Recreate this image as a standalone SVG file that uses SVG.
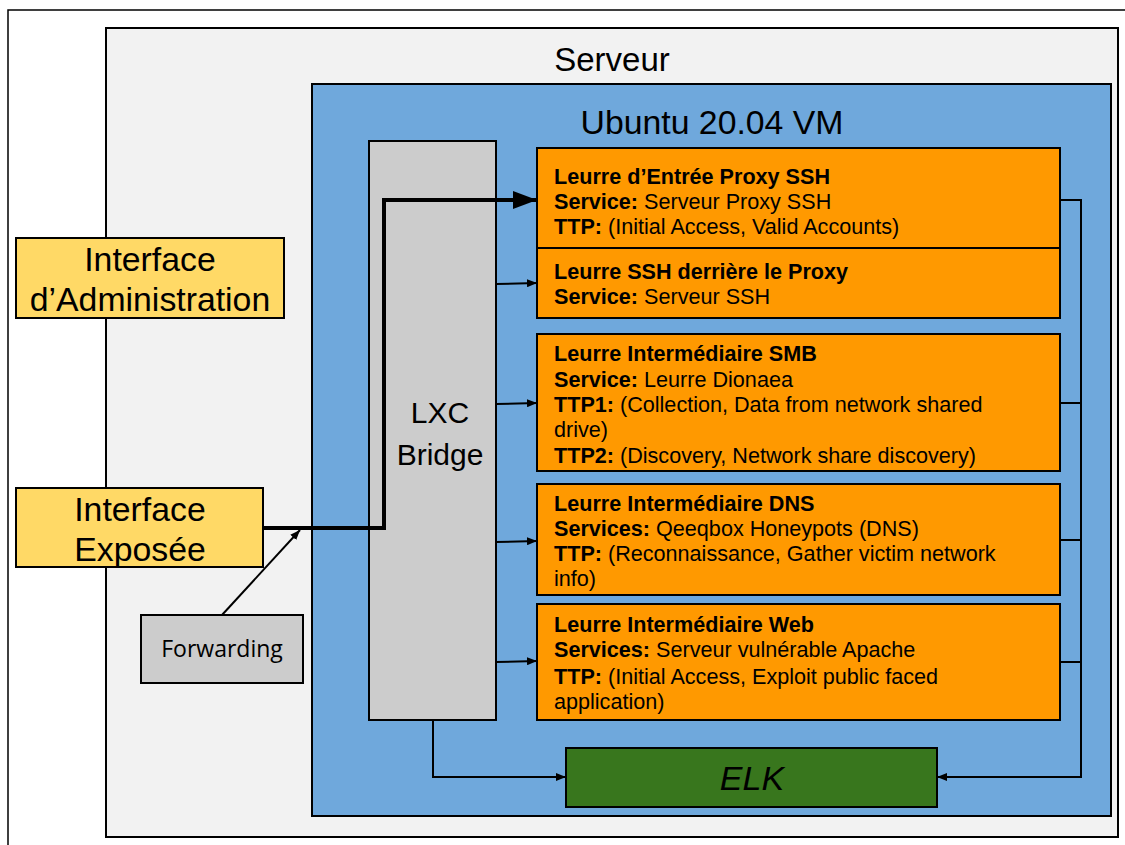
<svg xmlns="http://www.w3.org/2000/svg" width="1125" height="845" viewBox="0 0 1125 845">
<defs>
<style>
.box{stroke:#000;stroke-width:2}
.t{font-family:"Liberation Sans",Arial,sans-serif;fill:#000}
.o{font-family:"Liberation Sans",Arial,sans-serif;font-size:21.6px;fill:#000}
.b{font-weight:bold}
.c{fill:none;stroke:#000;stroke-width:2}
</style>
<marker id="big" markerUnits="userSpaceOnUse" markerWidth="24" markerHeight="18" refX="24" refY="9" orient="auto"><path d="M0,0 L24,9 L0,18 Z" fill="#000"/></marker>
<marker id="sm" markerUnits="userSpaceOnUse" markerWidth="10" markerHeight="8" refX="10" refY="4" orient="auto"><path d="M0,0 L10,4 L0,8 Z" fill="#000"/></marker>
</defs>
<rect width="1125" height="845" fill="#fff"/>
<rect x="8" y="10" width="1140" height="860" fill="#fff" stroke="#000" stroke-width="1.5"/>
<g id="serveur">
<rect x="106" y="28" width="1012" height="809" fill="#f2f2f2" class="box"/>
<text x="612" y="71" class="t" font-size="33" text-anchor="middle">Serveur</text>
</g>
<g id="vm">
<rect x="312" y="84" width="799" height="732" fill="#6fa8dc" class="box"/>
<text x="712" y="134" class="t" font-size="33.8" text-anchor="middle">Ubuntu 20.04 VM</text>
</g>
<g id="lxc">
<rect x="369" y="141" width="127" height="579" fill="#cccccc" class="box"/>
<text x="440" y="423" class="t" font-size="30" text-anchor="middle">LXC</text>
<text x="440" y="465" class="t" font-size="30" text-anchor="middle">Bridge</text>
</g>
<g id="admin">
<rect x="16" y="238" width="268" height="80" fill="#ffd966" class="box"/>
<text x="150" y="271" class="t" font-size="33.8" text-anchor="middle">Interface</text>
<text x="150" y="311" class="t" font-size="33.8" text-anchor="middle">d’Administration</text>
</g>
<g id="exposee">
<rect x="16" y="488" width="247" height="79" fill="#ffd966" class="box"/>
<text x="140" y="521" class="t" font-size="33.8" text-anchor="middle">Interface</text>
<text x="140" y="561" class="t" font-size="33.8" text-anchor="middle">Exposée</text>
</g>
<g id="forwarding">
<rect x="141" y="615" width="162" height="68" fill="#cccccc" class="box"/>
<text x="222" y="657" font-family="'Open Sans','Noto Sans',sans-serif" font-size="23" text-anchor="middle">Forwarding</text>
</g>
<g id="proxy">
<rect x="537" y="148" width="523" height="100" fill="#ff9900" class="box"/>
<text x="554" y="184" class="o b">Leurre d’Entrée Proxy SSH</text>
<text x="554" y="209" class="o"><tspan class="b">Service:</tspan> Serveur Proxy SSH</text>
<text x="554" y="234" class="o"><tspan class="b">TTP:</tspan> (Initial Access, Valid Accounts)</text>
</g>
<g id="ssh">
<rect x="537" y="248" width="523" height="70" fill="#ff9900" class="box"/>
<text x="554" y="279" class="o b">Leurre SSH derrière le Proxy</text>
<text x="554" y="304" class="o"><tspan class="b">Service:</tspan> Serveur SSH</text>
</g>
<g id="smb">
<rect x="537" y="334" width="523" height="137" fill="#ff9900" class="box"/>
<text x="554" y="361" class="o b">Leurre Intermédiaire SMB</text>
<text x="554" y="387" class="o"><tspan class="b">Service:</tspan> Leurre Dionaea</text>
<text x="554" y="412" class="o"><tspan class="b">TTP1:</tspan> (Collection, Data from network shared</text>
<text x="554" y="437" class="o">drive)</text>
<text x="554" y="463" class="o"><tspan class="b">TTP2:</tspan> (Discovery, Network share discovery)</text>
</g>
<g id="dns">
<rect x="537" y="484" width="523" height="111" fill="#ff9900" class="box"/>
<text x="554" y="511" class="o b">Leurre Intermédiaire DNS</text>
<text x="554" y="536" class="o"><tspan class="b">Services:</tspan> Qeeqbox Honeypots (DNS)</text>
<text x="554" y="561" class="o"><tspan class="b">TTP:</tspan> (Reconnaissance, Gather victim network</text>
<text x="554" y="586" class="o">info)</text>
</g>
<g id="web">
<rect x="537" y="604" width="523" height="116" fill="#ff9900" class="box"/>
<text x="554" y="632" class="o b">Leurre Intermédiaire Web</text>
<text x="554" y="657" class="o"><tspan class="b">Services:</tspan> Serveur vulnérable Apache</text>
<text x="554" y="684" class="o"><tspan class="b">TTP:</tspan> (Initial Access, Exploit public faced</text>
<text x="554" y="709" class="o">application)</text>
</g>
<g id="elk">
<rect x="566" y="748" width="371" height="59" fill="#38761d" class="box"/>
<text x="752" y="790" class="t" font-size="34" font-style="italic" text-anchor="middle">ELK</text>
</g>
<g id="connectors">
<polyline points="263,528 384,528 384,200 537,200" fill="none" stroke="#000" stroke-width="4" marker-end="url(#big)"/>
<line x1="222" y1="615" x2="300" y2="530" class="c" stroke-width="1.5" marker-end="url(#sm)"/>
<line x1="496" y1="284" x2="537" y2="283" class="c" marker-end="url(#sm)"/>
<line x1="496" y1="404" x2="537" y2="403" class="c" marker-end="url(#sm)"/>
<line x1="496" y1="542" x2="537" y2="541" class="c" marker-end="url(#sm)"/>
<line x1="496" y1="662" x2="537" y2="661" class="c" marker-end="url(#sm)"/>
<polyline points="433,720 433,777 566,777" class="c" marker-end="url(#sm)"/>
<polyline points="1060,200 1081,200 1081,777 937,777" class="c" marker-end="url(#sm)"/>
<line x1="1060" y1="403" x2="1081" y2="403" class="c"/>
<line x1="1060" y1="540" x2="1081" y2="540" class="c"/>
<line x1="1060" y1="662" x2="1081" y2="662" class="c"/>
</g>
</svg>
